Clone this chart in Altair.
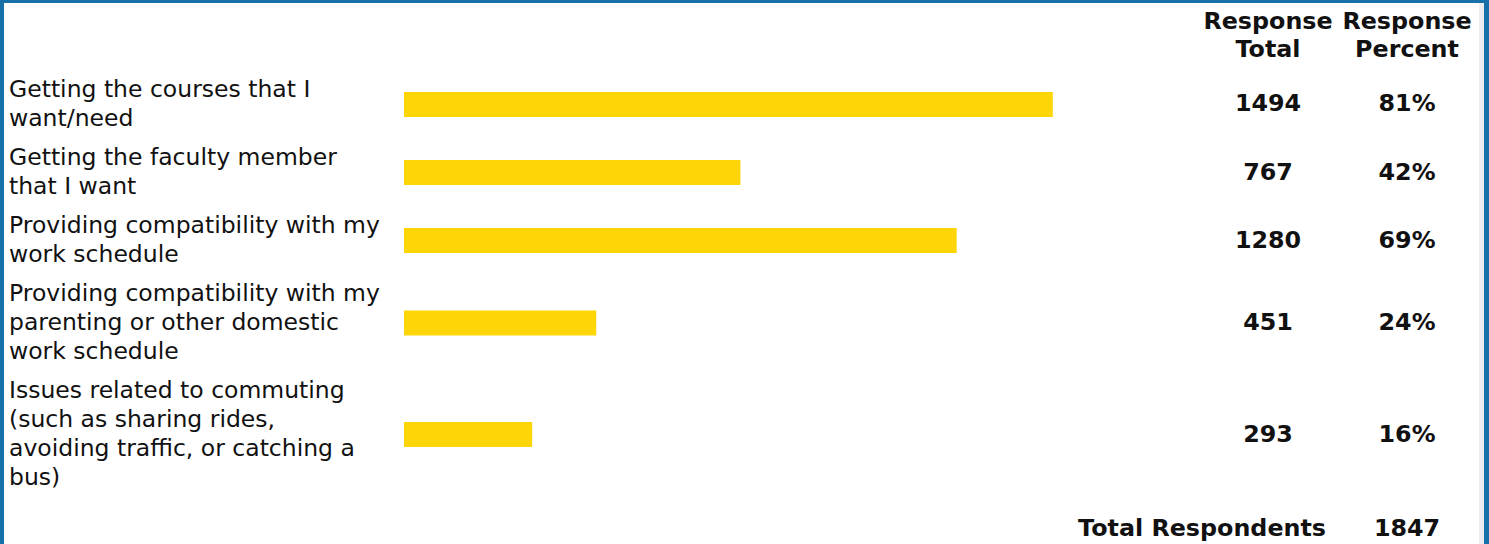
import altair as alt
import pandas as pd

# ---- data ----
labels = [
    "Getting the courses that I\nwant/need",
    "Getting the faculty member\nthat I want",
    "Providing compatibility with my\nwork schedule",
    "Providing compatibility with my\nparenting or other domestic\nwork schedule",
    "Issues related to commuting\n(such as sharing rides,\navoiding traffic, or catching a\nbus)",
]
totals = [1494, 767, 1280, 451, 293]
percents = [81, 42, 69, 24, 16]
header_total = ["Response", "Total"]
header_percent = ["Response", "Percent"]
footer_label = "Total Respondents"
total_respondents = 1847

# ---- layout helpers (rows stack by number of label lines) ----
GAP = 0.35  # gap between rows, in line units
rows, lines = [], []
start = 0.0
for i, (lab, tot, pct) in enumerate(zip(labels, totals, percents)):
    parts = lab.split("\n")
    n = len(parts)
    for j, p in enumerate(parts):
        lines.append({"line": p, "pos": start + j})
    rows.append({"label": lab, "total": str(tot), "percent": f"{pct}%",
                 "pct": pct, "zero": 0, "pos": start + (n - 1) / 2})
    start += n + GAP
rows_df = pd.DataFrame(rows)
lines_df = pd.DataFrame(lines)
last_pos = lines_df["pos"].max()

W, H = 1489, 544
FONT = "DejaVu Sans"
BLUE = "#1870A9"
YELLOW = "#FED506"
INK = "#111111"
REG = 23.5
BOLD = 23.8

xs = alt.Scale(domain=[0, 100], range=[404, 1205])
ys = alt.Scale(domain=[0, last_pos], range=[90, 478])

base_rows = alt.Chart(rows_df)

bars = base_rows.mark_rule(strokeWidth=25, color=YELLOW, strokeCap="butt").encode(
    x=alt.X("zero:Q", scale=xs, axis=None),
    x2="pct:Q",
    y=alt.Y("pos:Q", scale=ys, axis=None),
)

label_text = alt.Chart(lines_df).mark_text(
    align="left", baseline="middle", font=FONT, fontSize=REG, color=INK
).encode(
    x=alt.value(9),
    y=alt.Y("pos:Q", scale=ys, axis=None),
    text="line:N",
)

tot_text = base_rows.mark_text(
    align="center", baseline="middle", font=FONT, fontSize=BOLD,
    fontWeight="bold", color=INK
).encode(x=alt.value(1268), y=alt.Y("pos:Q", scale=ys, axis=None), text="total:N")

pct_text = base_rows.mark_text(
    align="center", baseline="middle", font=FONT, fontSize=BOLD,
    fontWeight="bold", color=INK
).encode(x=alt.value(1407), y=alt.Y("pos:Q", scale=ys, axis=None), text="percent:N")

hdr_df = pd.DataFrame({
    "text": header_total + header_percent,
    "col": ["t", "t", "p", "p"],
    "row": [0, 1, 0, 1],
})
hoff = alt.YOffset("row:Q", scale=alt.Scale(domain=[0, 1], range=[0, 28]))
hdr_t = alt.Chart(hdr_df).transform_filter("datum.col == 't'").mark_text(
    align="center", baseline="middle", font=FONT, fontSize=BOLD, fontWeight="bold",
    color=INK
).encode(x=alt.value(1268), y=alt.value(22), text="text:N", yOffset=hoff)
hdr_p = alt.Chart(hdr_df).transform_filter("datum.col == 'p'").mark_text(
    align="center", baseline="middle", font=FONT, fontSize=BOLD, fontWeight="bold",
    color=INK
).encode(x=alt.value(1407), y=alt.value(22), text="text:N", yOffset=hoff)

foot_df = pd.DataFrame({"label": [footer_label], "value": [str(total_respondents)]})
foot_l = alt.Chart(foot_df).mark_text(
    align="right", baseline="middle", font=FONT, fontSize=BOLD, fontWeight="bold", color=INK
).encode(x=alt.value(1326), y=alt.value(529), text="label:N")
foot_v = alt.Chart(foot_df).mark_text(
    align="center", baseline="middle", font=FONT, fontSize=BOLD, fontWeight="bold", color=INK
).encode(x=alt.value(1407), y=alt.value(529), text="value:N")

# frame
frame_df = pd.DataFrame({"k": [1]})
fb = alt.Chart(frame_df)
top = fb.mark_rect(color=BLUE).encode(x=alt.value(0), x2=alt.value(W), y=alt.value(0), y2=alt.value(3))
left = fb.mark_rect(color=BLUE).encode(x=alt.value(0), x2=alt.value(4), y=alt.value(0), y2=alt.value(H))
gray = fb.mark_rect(color="#ECECF2").encode(x=alt.value(1479), x2=alt.value(1484), y=alt.value(3), y2=alt.value(H))
right = fb.mark_rect(color=BLUE).encode(x=alt.value(1484), x2=alt.value(W), y=alt.value(0), y2=alt.value(H))

chart = alt.layer(
    bars, label_text, tot_text, pct_text, hdr_t, hdr_p, foot_l, foot_v,
    top, left, gray, right
).properties(
    width=W, height=H, padding=0, autosize=alt.AutoSizeParams(type="none"),
    background="white"
).configure_view(strokeWidth=0)

chart.save("out.html", embed_options={"renderer": "svg", "actions": False})
